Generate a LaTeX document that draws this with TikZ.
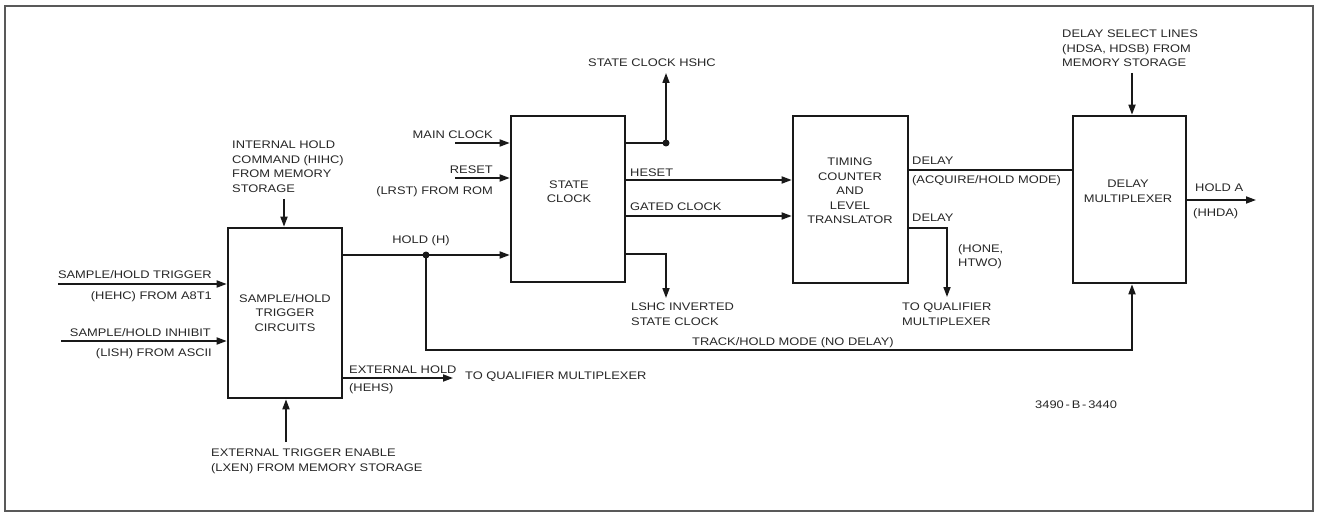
\documentclass[tikz,border=0pt]{standalone}
\usepackage{fontspec}
\setmainfont{Liberation Sans}[FakeStretch=1.17]
\usetikzlibrary{arrows.meta}
\begin{document}
\begin{tikzpicture}[x=1pt,y=-1pt,
  every node/.style={font=\fontsize{11}{14.5}\selectfont, inner sep=0pt, text=black!85},
  blk/.style={draw=black!90, line width=2.6pt},
  blktxt/.style={align=center},
  wire/.style={draw=black!90, line width=1.7pt},
  arr/.style={wire, -{Triangle[length=10pt,width=7pt]}},
  lbl/.style={align=left},
  frame/.style={draw=black!65, line width=1.6pt},
  dot/.style={fill=black!90}
]
\useasboundingbox (0,0) rectangle (1319,513);
\draw[frame] (5,6) rectangle (1313,511);

% blocks
\node[blk, minimum width=114pt, minimum height=170pt] (sh) at (285,313) {};
\node[blktxt] (shtxt) at (sh.center) {SAMPLE/HOLD\\TRIGGER\\CIRCUITS};
\node[blk, minimum width=114pt, minimum height=166pt] (sc) at (568,199) {};
\node[blktxt] (sctxt) at (569,191.5) {STATE\\CLOCK};
\node[blk, minimum width=115pt, minimum height=167pt] (tc) at (850.5,199.5) {};
\node[blktxt] (tctxt) at (850,191) {TIMING\\COUNTER\\AND\\LEVEL\\TRANSLATOR};
\node[blk, minimum width=113pt, minimum height=167pt] (dm) at (1129.5,199.5) {};
\node[blktxt] (dmtxt) at (1128,191.5) {DELAY\\MULTIPLEXER};

% coordinates
\coordinate (intIn) at (284,199);
\coordinate (trigIn) at (58,284);
\coordinate (inhIn) at (61,341);
\coordinate (extEn) at (286,442);
\coordinate (holdDot) at (426,255);
\coordinate (trackTurn) at (1132,350);
\coordinate (exhOut) at (453,378);
\coordinate (mcIn) at (455,143);
\coordinate (rsIn) at (455,178);
\coordinate (scDot) at (666,143);
\coordinate (scTop) at (666,73);
\coordinate (rsy) at (700,180);
\coordinate (gcy) at (700,216);
\coordinate (lsTurn) at (666,254);
\coordinate (lsEnd) at (666,298);
\coordinate (d1y) at (1000,170);
\coordinate (d2Turn) at (947,228);
\coordinate (d2End) at (947,297);
\coordinate (dsIn) at (1132,73);
\coordinate (haOut) at (1256,200);

% connectors
\draw[arr] (intIn) -- (intIn |- sh.north);
\draw[arr] (trigIn) -- (trigIn -| sh.west);
\draw[arr] (inhIn) -- (inhIn -| sh.west);
\draw[arr] (extEn) -- (extEn |- sh.south);
\draw[wire] (holdDot -| sh.east) -- (holdDot);
\draw[arr] (holdDot) -- (holdDot -| sc.west);
\draw[arr] (holdDot) |- (trackTurn) -- (trackTurn |- dm.south);
\fill[dot] (holdDot) circle[radius=3.5pt];
\draw[arr] (exhOut -| sh.east) -- (exhOut);
\draw[arr] (mcIn) -- (mcIn -| sc.west);
\draw[arr] (rsIn) -- (rsIn -| sc.west);
\draw[wire] (scDot -| sc.east) -- (scDot);
\draw[arr] (scDot) -- (scTop);
\fill[dot] (scDot) circle[radius=3.5pt];
\draw[arr] (sc.east |- rsy) -- (tc.west |- rsy);
\draw[arr] (sc.east |- gcy) -- (tc.west |- gcy);
\draw[arr] (sc.east |- lsTurn) -- (lsTurn) -- (lsEnd);
\draw[wire] (tc.east |- d1y) -- (dm.west |- d1y);
\draw[arr] (tc.east |- d2Turn) -- (d2Turn) -- (d2End);
\draw[arr] (dsIn) -- (dsIn |- dm.north);
\draw[arr] (dm.east |- haOut) -- (haOut);

% labels
\node[lbl, anchor=north west] (intTxt) at (232,141) {INTERNAL HOLD\\COMMAND (HIHC)\\FROM MEMORY\\STORAGE};
\node[anchor=base east] (trigTxtA) at (212,278) {SAMPLE/HOLD TRIGGER};
\node[anchor=base east] (trigTxtB) at (212,299) {(HEHC) FROM A8T1};
\node[anchor=base east] (inhTxtA) at (211,336) {SAMPLE/HOLD INHIBIT};
\node[anchor=base east] (inhTxtB) at (212,356) {(LISH) FROM ASCII};
\node (holdTxt) at (421,241) {HOLD (H)};
\node[anchor=base west] (exhTxtA) at (349,373) {EXTERNAL HOLD};
\node[anchor=base west] (exhTxtB) at (349,391) {(HEHS)};
\node[anchor=base west] (exhTxtC) at (465,379) {TO QUALIFIER MULTIPLEXER};
\node[lbl, anchor=north west] (extTxt) at (211,449) {EXTERNAL TRIGGER ENABLE\\(LXEN) FROM MEMORY STORAGE};
\node[anchor=base east] (mcTxt) at (493,139) {MAIN CLOCK};
\node[anchor=base east] (rsTxtA) at (493,174) {RESET};
\node[anchor=base east] (rsTxtB) at (493,195) {(LRST) FROM ROM};
\node (scTopTxt) at (652,63) {STATE CLOCK HSHC};
\node[anchor=base west] (hsTxt) at (630,177) {HESET};
\node[anchor=base west] (gcTxt) at (630,211) {GATED CLOCK};
\node[lbl, anchor=north west] (lsTxt) at (631,303) {LSHC INVERTED\\STATE CLOCK};
\node[anchor=base west] (d1TxtA) at (912,165) {DELAY};
\node[anchor=base west] (d1TxtB) at (912,184) {(ACQUIRE/HOLD MODE)};
\node[anchor=base west] (d2TxtA) at (912,222) {DELAY};
\node[lbl, anchor=north west] (d2TxtB) at (958,244) {(HONE,\\HTWO)};
\node[lbl, anchor=north west] (d2TxtC) at (902,303) {TO QUALIFIER\\MULTIPLEXER};
\node[anchor=base west] (trkTxt) at (692,345) {TRACK/HOLD MODE (NO DELAY)};
\node[lbl, anchor=north west] (dsTxt) at (1062,30) {DELAY SELECT LINES\\(HDSA, HDSB) FROM\\MEMORY STORAGE};
\node[anchor=base west] (haTxtA) at (1195,192) {HOLD A};
\node[anchor=base west] (haTxtB) at (1193,216) {(HHDA)};
\node[anchor=base west] (figTxt) at (1035,408) {3490\,-\,B\,-\,3440};
\end{tikzpicture}
\end{document}
